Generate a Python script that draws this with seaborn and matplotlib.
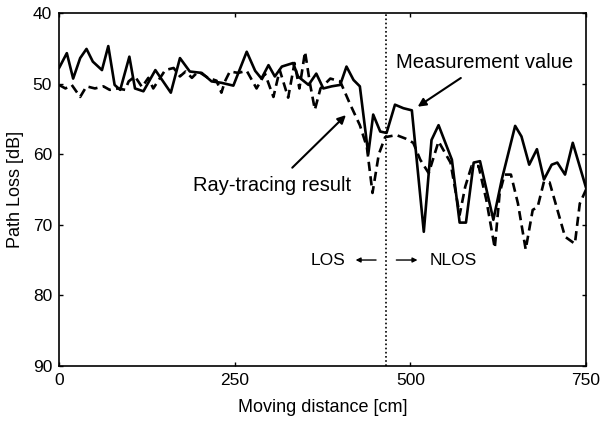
import numpy as np
import pandas as pd
import matplotlib
matplotlib.use("Agg")
import matplotlib.pyplot as plt
import seaborn as sns

# Measurement value (solid)
meas_x = [0, 11, 20, 30, 39, 48, 61, 70, 79, 87, 100, 108, 120, 137, 148, 159, 172, 186, 203, 217,
          231, 248, 267, 279, 288, 298, 307, 317, 333, 340, 355, 366, 376, 388, 400, 409, 419, 428,
          440, 447, 457, 466, 478, 490, 502, 519, 530, 540, 559, 570, 579, 590, 599, 618, 630, 649,
          658, 669, 680, 690, 701, 709, 720, 731, 750]
meas_y = [47.8, 45.7, 49.3, 46.4, 45.1, 46.9, 48.1, 44.7, 50.2, 50.9, 46.2, 50.7, 51.1, 48.1, 49.7,
          51.3, 46.4, 48.3, 48.5, 49.7, 49.9, 50.3, 45.5, 48.2, 49.3, 47.4, 49.0, 47.6, 47.1, 49.0,
          50.2, 48.6, 50.7, 50.4, 50.2, 47.6, 49.5, 50.4, 60.0, 54.4, 56.8, 57.0, 53.0, 53.5, 53.8,
          71.0, 58.0, 55.9, 60.8, 69.7, 69.7, 61.2, 61.0, 69.3, 63.6, 56.0, 57.5, 61.5, 59.3, 63.6,
          61.5, 61.2, 62.9, 58.4, 64.8]

# Ray-tracing result (dashed)
ray_x = [0, 9, 18, 30, 39, 51, 63, 72, 84, 94, 99, 108, 118, 127, 134, 151, 163, 172, 180, 189,
         198, 212, 224, 231, 236, 243, 255, 267, 281, 293, 305, 314, 326, 335, 342, 350, 357, 364,
         372, 386, 400, 414, 428, 438, 446, 455, 464, 480, 493, 504, 514, 526, 540, 557, 570, 578,
         587, 597, 608, 620, 627, 634, 643, 653, 664, 674, 681, 690, 698, 708, 720, 734, 741, 750]
ray_y = [50.2, 50.7, 50.2, 51.9, 50.4, 50.7, 50.4, 50.9, 50.7, 50.9, 49.7, 49.0, 50.5, 49.2, 50.7,
         48.1, 47.8, 49.0, 48.3, 49.2, 48.3, 49.2, 49.6, 51.3, 49.7, 48.3, 48.5, 48.2, 50.7, 48.6,
         51.9, 48.1, 52.0, 47.1, 50.7, 45.5, 50.0, 53.7, 50.7, 49.3, 49.7, 52.9, 55.9, 59.0, 65.5,
         60.0, 57.6, 57.3, 57.8, 58.4, 60.8, 62.7, 58.2, 61.2, 68.6, 64.6, 61.7, 61.7, 66.5, 73.3,
         65.5, 62.9, 62.9, 67.0, 73.5, 67.9, 67.5, 63.9, 64.0, 67.5, 71.7, 72.7, 67.0, 65.0]

x_ticks = [0, 250, 500, 750]
y_ticks = [40, 50, 60, 70, 80, 90]
boundary_x = 465

sns.set_theme(style="ticks")
plt.rcParams['font.family'] = ['Liberation Sans', 'DejaVu Sans']
plt.rcParams['text.color'] = 'black'
plt.rcParams['axes.labelcolor'] = 'black'
plt.rcParams['xtick.color'] = 'black'
plt.rcParams['ytick.color'] = 'black'

fig = plt.figure(figsize=(6.03, 4.30), dpi=100)
ax = fig.add_axes([0.098, 0.149, 0.874, 0.821])

meas_df = pd.DataFrame({"x": meas_x, "y": meas_y})
ray_df = pd.DataFrame({"x": ray_x, "y": ray_y})

sns.lineplot(data=meas_df, x="x", y="y", ax=ax, color="black", linewidth=1.9,
             estimator=None, sort=False)
sns.lineplot(data=ray_df, x="x", y="y", ax=ax, color="black", linewidth=1.9,
             linestyle=(0, (3.5, 2.0)), estimator=None, sort=False)

ax.axvline(boundary_x, color="black", linestyle=(0, (1, 1.5)), linewidth=1.2)

ax.set_xlim(0, 750)
ax.set_ylim(90, 40)
ax.set_xticks(x_ticks)
ax.set_yticks(y_ticks)
ax.tick_params(direction="in", length=3, width=1, top=True, right=True,
               labelsize=12.5, colors="black", labelcolor="black", pad=5)
for s in ax.spines.values():
    s.set_linewidth(1.2)
    s.set_color("black")

ax.set_xlabel("Moving distance [cm]", fontsize=13, labelpad=8, color="black")
ax.set_ylabel("Path Loss [dB]", fontsize=13, labelpad=6, color="black")

ax.text(480, 47.0, "Measurement value", fontsize=14.5, ha="left", va="center", color="black")
ax.annotate("", xy=(507, 53.5), xytext=(575, 49.0),
            arrowprops=dict(arrowstyle="-|>", color="black", lw=1.5, mutation_scale=12))

ax.text(303, 64.4, "Ray-tracing result", fontsize=14.5, ha="center", va="center", color="black")
ax.annotate("", xy=(411, 54.2), xytext=(329, 62.2),
            arrowprops=dict(arrowstyle="-|>", color="black", lw=1.5, mutation_scale=12))

ax.text(407, 75, "LOS", fontsize=12.5, ha="right", va="center", color="black")
ax.annotate("", xy=(418, 75), xytext=(455, 75),
            arrowprops=dict(arrowstyle="-|>", color="black", lw=1.0, mutation_scale=7))
ax.annotate("", xy=(514, 75), xytext=(476, 75),
            arrowprops=dict(arrowstyle="-|>", color="black", lw=1.0, mutation_scale=7))
ax.text(527, 75, "NLOS", fontsize=12.5, ha="left", va="center", color="black")

fig.savefig("out.png", dpi=100)
